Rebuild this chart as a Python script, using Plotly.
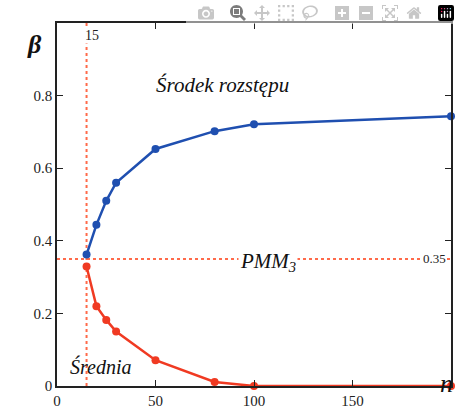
import plotly.graph_objects as go

n_vals = [15, 20, 25, 30, 50, 80, 100, 200]
beta_srodek = [0.362, 0.444, 0.51, 0.56, 0.653, 0.702, 0.721, 0.743]
beta_srednia = [0.329, 0.22, 0.182, 0.15, 0.071, 0.011, 0.0, 0.0]
x_ticks = [0, 50, 100, 150]
y_ticks = [0, 0.2, 0.4, 0.6, 0.8]
y_tick_labels = ["0", "0.2", "0.4", "0.6", "0.8"]
n_ref = 15
beta_ref = 0.35

FONT = "Liberation Serif, Times New Roman, DejaVu Serif, serif"
RED = "#f03a22"
BLUE = "#1f4fb0"
DOT = "#ff6a4a"

W, H = 460, 416
ML, MR, MT, MB = 57, 7, 23, 25
PW, PH = W - ML - MR, H - MT - MB

fig = go.Figure()
fig.add_trace(go.Scatter(x=n_vals, y=beta_srodek, mode="lines+markers",
                         line=dict(color=BLUE, width=2.5),
                         marker=dict(color=BLUE, size=8), cliponaxis=False))
fig.add_trace(go.Scatter(x=n_vals, y=beta_srednia, mode="lines+markers",
                         line=dict(color=RED, width=2.5),
                         marker=dict(color=RED, size=8), cliponaxis=False))

fig.add_shape(type="line", x0=n_ref, x1=n_ref, y0=0, y1=1, xref="x", yref="y",
              line=dict(color=DOT, width=2, dash="dot"), layer="below")
fig.add_shape(type="line", x0=0, x1=200, y0=beta_ref, y1=beta_ref, xref="x", yref="y",
              line=dict(color=DOT, width=2, dash="dot"), layer="below")

ann = [
    dict(x=n_ref, y=0.965, xref="x", yref="y", text="15", showarrow=False,
         font=dict(family=FONT, size=14, color="#222"), bgcolor="white",
         xanchor="left", xshift=-3, borderpad=0),
    dict(x=107, y=beta_ref, xref="x", yref="y", text="<i>PMM<sub>3</sub></i>",
         showarrow=False, font=dict(family=FONT, size=21, color="#111"),
         bgcolor="white", yshift=-3),
    dict(x=198, y=beta_ref, xref="x", yref="y", text="0.35", showarrow=False,
         font=dict(family=FONT, size=13, color="#222"), bgcolor="white",
         xanchor="right", borderpad=0),
    dict(x=84, y=0.83, xref="x", yref="y", text="<i>Środek rozstępu</i>",
         showarrow=False, font=dict(family=FONT, size=21, color="#111")),
    dict(x=22, y=0.055, xref="x", yref="y", text="<i>Średnia</i>",
         showarrow=False, font=dict(family=FONT, size=20, color="#111")),
    dict(x=(25 - ML) / PW, y=(H - 28 - MB) / PH, xref="paper", yref="paper",
         text="<b><i>β</i></b>", showarrow=False,
         font=dict(family=FONT, size=26, color="#111")),
    dict(x=(457 - ML) / PW, y=(H - 405 - MB) / PH, xref="paper", yref="paper",
         text="<i>n</i>", showarrow=False,
         font=dict(family=FONT, size=26, color="#111")),
]

fig.update_layout(
    width=W, height=H,
    margin=dict(l=ML, r=MR, t=MT, b=MB),
    paper_bgcolor="white", plot_bgcolor="white",
    showlegend=False,
    font=dict(family=FONT, size=15, color="#222"),
    annotations=ann,
)

fig.update_xaxes(range=[0, 200], tickvals=x_ticks, ticks="inside", ticklen=6,
                 tickcolor="#222", showline=True, linecolor="#222", linewidth=1.5,
                 mirror="ticks", showgrid=False, zeroline=False,
                 tickfont=dict(family=FONT, size=15, color="#222"))
fig.update_yaxes(range=[0, 1], tickvals=y_ticks, ticktext=y_tick_labels, ticks="inside",
                 ticklen=6, tickcolor="#222", showline=True, linecolor="#222",
                 linewidth=1.5, mirror="ticks", showgrid=False, zeroline=False,
                 tickfont=dict(family=FONT, size=15, color="#222"))

fig.write_html("out.html",
               post_script="document.body.style.margin='0';document.body.style.overflow='hidden';")
